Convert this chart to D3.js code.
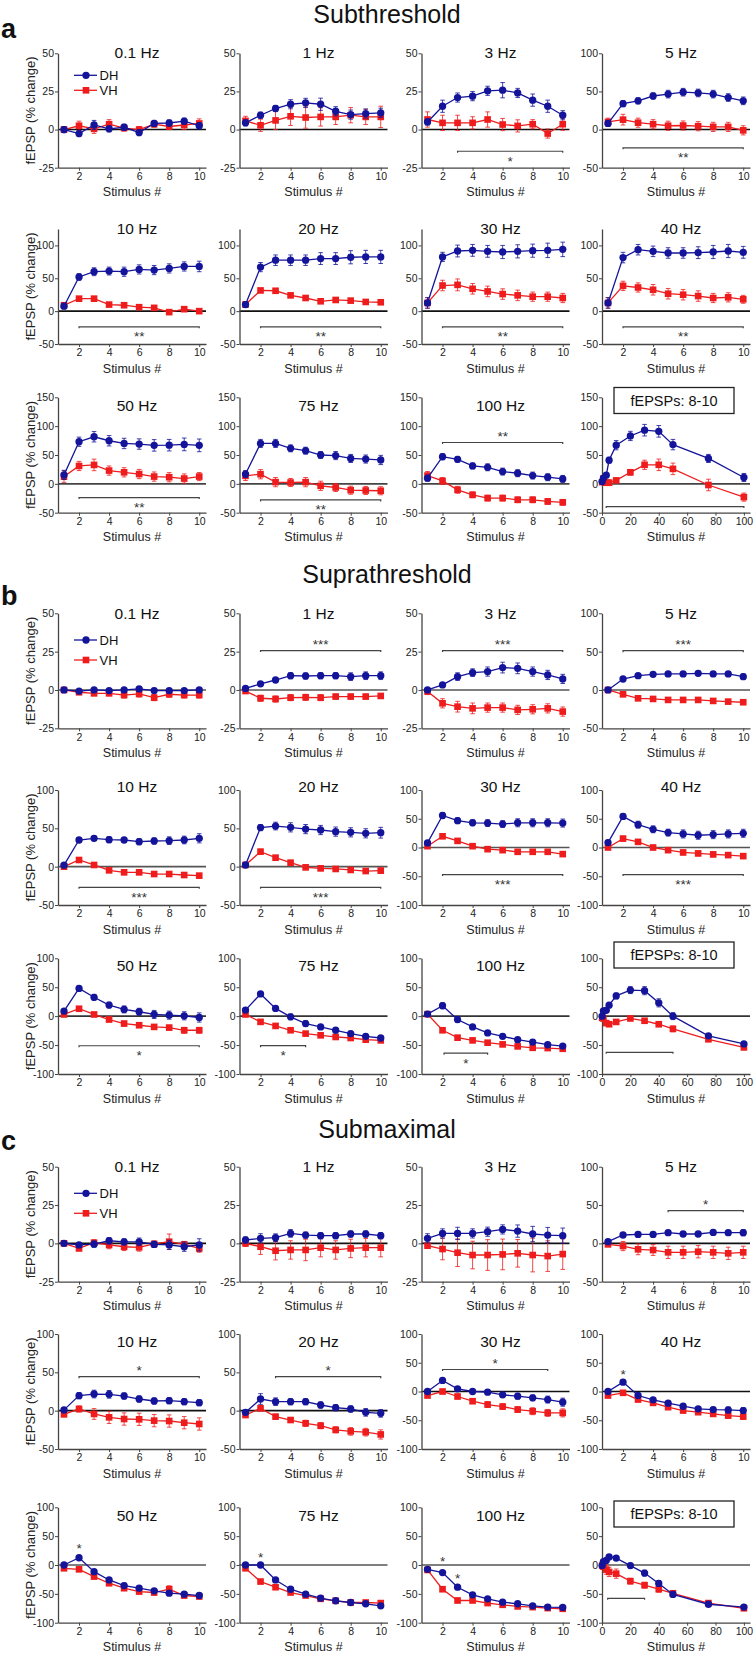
<!DOCTYPE html>
<html><head><meta charset="utf-8">
<script src="https://cdn.jsdelivr.net/npm/d3@7"></script>
<style>body{margin:0;background:#fff}svg text{font-family:"Liberation Sans",Arial,Helvetica,sans-serif}</style>
</head><body><svg id="chart" width="754" height="1655"></svg>
<script>
// ---------------- DATA ----------------
const sectionNames = ["Subthreshold", "Suprathreshold", "Submaximal"];
const sectionLetters = ["a", "b", "c"];
const seriesNames = ["DH", "VH"];
const panelTitles = ["0.1 Hz","1 Hz","3 Hz","5 Hz","10 Hz","20 Hz","30 Hz","40 Hz","50 Hz","75 Hz","100 Hz"];
const summaryTitle = "fEPSPs: 8-10";
const stimulusNumbers = [1,2,3,4,5,6,7,8,9,10];
const stimTickLabels = [2,4,6,8,10];
const summaryFreqs = [0.1,1,3,5,10,20,30,40,50,75,100];
const summaryTickLabels = [0,20,40,60,80,100];
const yTicks25 = [-25,0,25,50];
const yTicks50 = [-50,0,50,100];
const yTicks150 = [-50,0,50,100,150];
const yTicks100 = [-100,-50,0,50,100];
const xLabel = "Stimulus #";
const yLabel = "fEPSP (% change)";

// a: Subthreshold
const subDH = [
 [0,-2.6,3,0.5,1.5,-2,4,4.3,5.5,2.5],
 [4.4,9.4,13.8,16.6,17.5,16.6,12,9.8,10.5,11],
 [5,15.3,21,21.9,25.4,25.8,24,19.3,15.3,9.4],
 [8,34,37.7,44,46.5,49,48,46.5,42,37.7],
 [7.5,52,60,61,60,63.5,62.5,65,68,68],
 [10,67,77.5,77.5,77.5,80,80,82,82.5,82.5],
 [12.5,82.5,91.5,92.5,91,90,91,92,92.5,94],
 [12.5,81.5,93.5,91,88.5,88.5,89,90,91.5,89.5],
 [15.5,73,81.6,74.7,70,69,66.7,67,68.4,66.7],
 [17,70,70,61.5,57.5,50,49,44,43,41.4],
 [9.8,47,42.5,31,28.7,21.3,18.4,14.4,11.5,8.6]];
const subDHerr = [
 [2,2,3,2,2,2,2,2,2,2],[2,2,2,3,3,4,3,3,3,3],[2,4,3,3,3,5,3,4,4,3],[4,4,4,4,5,5,5,5,5,5],
 [4,5,6,6,7,7,7,7,7,8],[4,7,8,8,8,9,9,10,10,10],[8,7,9,9,9,10,10,10,11,11],[8,8,8,8,8,8,9,10,10,9],
 [8,8,9,9,9,9,10,10,11,11],[6,7,7,6,6,6,7,7,7,8],[5,5,5,5,6,6,6,6,6,6]];
const subVH = [
 [0,2.5,0.5,3.5,1,0,3.5,2,3,4],
 [5.7,2.8,6,8.7,7.9,8.3,8.3,9.4,8.3,8.3],
 [6.6,4.4,4.4,4.4,6.6,3.3,2.4,3.5,-2.6,3.5],
 [10,13,9,7,5,5.3,4.4,3.5,3.5,-1],
 [9,19,19,10,9,6,5,-1.5,3,0],
 [10,31.5,31,24,20,15,17,16,14,13.5],
 [12.5,39,40,34,30,26,24,22,22,20],
 [12.5,38.5,36,32.5,26.5,25,23,20,21,18],
 [12.6,31,32.8,23,20,17,12.6,11.5,9.2,12.6],
 [13.8,16.7,3,2.3,3,-3.4,-6.3,-11,-11.5,-12],
 [14.4,5,-10.3,-19,-24.7,-24.7,-27.6,-27.6,-30.5,-32]];
const subVHerr = [
 [2,3,3,3,2,2,2,2,3,3],[3,4,6,6,7,6,5,5,5,7],[5,5,5,4,5,4,4,3,3,4],[5,7,6,6,6,6,6,6,6,6],
 [3,3,3,3,3,3,3,3,3,3],[4,3,3,3,3,3,3,3,3,3],[8,8,9,8,8,8,8,7,7,7],[8,7,7,8,8,8,8,7,7,6],
 [10,8,10,8,8,8,8,8,8,7],[8,8,8,7,8,8,7,7,7,7],[7,6,6,5,5,5,5,5,5,5]];
const subSumDH = [4,10,15,41,67,83,93,91,68,44,11];
const subSumDHerr = [3,3,4,5,8,8,10,10,9,7,7];
const subSumVH = [3,9,2,2,6,20,33,33,26,-2,-23];
const subSumVHerr = [3,5,5,5,3,5,8,10,10,10,7];

// b: Suprathreshold
const supDH = [
 [0,-0.7,0,-0.4,0,0.7,-0.4,-0.4,-0.4,0],
 [1,4,6.5,9.3,9.1,9.3,9.3,8.7,9.3,9.3],
 [0,3.3,8.7,11.3,12,14.6,14.1,12,9.8,7.2],
 [0,14.3,18.7,20.4,20.9,20.9,21.7,20.9,20.9,17.4],
 [2,34.8,37,35.2,34.8,32.6,33.5,33.9,34.8,37],
 [2.2,51,53,51.3,49,47.8,45.7,44.8,43.5,44.3],
 [8,55.7,46.6,43,42.5,40.8,43,43,43,42.5],
 [8.6,54,39.7,31.6,25.9,23.6,21.3,22.4,23.6,24.7],
 [8.7,48,32.6,19.2,11.6,7.6,2.9,1.7,0.6,-2.3],
 [10.5,38.4,13.4,-1.2,-12.8,-18.6,-24.4,-30.2,-34.9,-37.8],
 [3.5,18,-5.8,-18.6,-29,-34.9,-40.7,-44.8,-49.4,-51.7]];
const supDHerr = [
 [1,1,1,1,1,1.5,1.5,1,1,1],[1,1.5,1.5,2,2,2,2,2.5,2.5,2.5],[1,1.5,2.5,2.5,3,3.5,3.5,3,3,3],[1,2,2,2.5,2.5,2.5,3,3,3,3.5],
 [2,3,3,4,3,4,4,5,5,6],[2,4,5,6,6,6,6,6,6,7],[4,5,5,5,6,6,7,7,7,7],[4,5,6,6,6,7,7,7,7,7],
 [3,4,5,5,6,6,7,7,7,8],[3,4,4,5,5,4,4,4,4,4],[3,5,5,4,4,4,4,4,3,3]];
const supVH = [
 [0,-1.5,-2.2,-2.2,-3.3,-2.6,-5,-2.8,-3.3,-3.3],
 [-0.7,-5.4,-5.9,-5,-4.8,-5,-4.3,-4.3,-4.3,-3.9],
 [-1,-8.7,-10.9,-12,-11.5,-11.5,-13,-12.6,-12,-14.1],
 [0,-5.7,-10.9,-11.7,-13,-13,-13,-14.3,-15.2,-16],
 [0,8.7,2.2,-4.8,-7.4,-7.4,-9.6,-9.6,-10.9,-11.7],
 [2.2,19.6,11.7,5.2,-0.9,-2.2,-3,-4.3,-5.7,-5.2],
 [2.3,19.5,11.5,2.3,-2.9,-4.6,-7.5,-7.5,-7.5,-11.5],
 [0,15.5,9.8,0,-4.6,-8.6,-10.3,-12,-13.2,-15],
 [2.9,12.8,2.9,-5.8,-12.8,-15.7,-18.6,-19.8,-24.4,-24.4],
 [2.9,-9.9,-16.9,-24.4,-30.2,-33.1,-36,-37.8,-40.7,-41.9],
 [3.5,-24.4,-37.2,-41.9,-45.9,-48.8,-52.3,-54.7,-55.2,-56.4]];
const supVHerr = [
 [1.5,1.5,1.5,1.5,2,2,2,2,2,2],[1.5,2,2,2,2,2,1.5,1.5,1.5,1.5],[2,3,3.5,3.5,3,3,3,3,3,3],[1,2,2,2,2,2,2,2,2,2.5],
 [2,2,2,2,2,2,2,2,2,2.5],[2,3,3,3,3,3,3,3,3,3.5],[3,4,4,3,3,3,3,3,3,4],[3,4,4,3,3,4,4,4,4,4],
 [2,3,3,4,4,4,4,4,5,5],[2,2,2,3,3,3,3,3,3,3],[3,3,3,3,3,3,3,4,3,4]];
const supSumDH = [0,9,10,19,35,45,44,23,0,-34,-48];
const supSumDHerr = [1,2,3,3,5,6,7,7,6,4,3];
const supSumVH = [-3,-4,-12,-14,-10,-4,-8,-14,-22,-40,-54];
const supSumVHerr = [2,2,3,2,2,3,3,4,5,3,4];

// c: Submaximal
const smxDH = [
 [0,-1,-0.5,1.7,1,1,-0.7,-1,-2.2,-1],
 [2.2,3.3,3.7,6.5,5.4,5,5,6.1,6.1,5],
 [3.3,6.5,6.5,6.5,7.6,9.1,8,6.1,5.4,5],
 [2.2,10.9,11.7,11.7,13.9,12.2,12.2,14.3,13.9,13.9],
 [1,19.6,21.7,21.3,19.1,15.2,12.6,13,11.7,10.4],
 [-2.2,15.2,11.7,11.7,11.7,7.4,3.9,2.2,-2.2,-3.5],
 [0,19.2,4.7,0,-1.2,-5.8,-8.1,-11,-14,-18.6],
 [0,16.3,-7,-14.5,-20.3,-25.6,-30.2,-31.4,-32,-33.1],
 [0,12.6,-11.5,-25.9,-35.6,-40.2,-44.8,-48.9,-50.6,-52.9],
 [0,0,-25.9,-42,-50.6,-57.5,-62,-65,-67.2,-70.7],
 [-7.5,-13.2,-38.5,-51.7,-58.6,-64.4,-67.2,-70.7,-73,-73.6]];
const smxDHerr = [
 [1.5,1.5,2,2,2,2.5,2,3,3,4],[2,3,2.5,2.5,2,2,2,2,2,2],[3,3,4,3,3,3,4,5,5,5],[2,3,3,3,3,3,3,3,3,4],
 [3,4,5,5,4,4,4,4,4,4],[3,7,5,4,4,4,4,4,5,5],[3,4,4,3,4,4,5,5,6,7],[3,4,3,3,4,4,4,4,5,5],
 [3,3,3,3,4,4,4,4,4,4],[2,2,3,3,3,3,3,3,3,3],[2,2,3,3,3,3,3,3,3,3]];
const smxVH = [
 [0,-3.3,0.4,-1,-2.2,-2.6,-0.4,1.1,-0.7,-3.3],
 [0,-2.2,-4.8,-4.3,-4.3,-2.8,-4.3,-3.3,-2.8,-2.8],
 [-1.5,-3.7,-6.1,-7.6,-7.6,-7.2,-6.5,-7.6,-8.3,-7],
 [-1.3,-3.5,-7.8,-8.7,-11.7,-11.7,-10.9,-11.7,-13,-11.7],
 [-4.8,2.2,-4.3,-8.7,-10.9,-11.3,-13,-13.5,-15.7,-17.4],
 [-5.7,3,-7.8,-12.2,-16.5,-19.6,-25,-27,-28,-31],
 [-7,0,-8.7,-16.9,-22.7,-26.2,-31.4,-34.3,-37.2,-37.2],
 [-7,-2.3,-14,-19.8,-27.3,-33.1,-36,-39,-41.9,-43.6],
 [-5.7,-7.5,-20.1,-31.6,-40.2,-46,-47.7,-42,-52.9,-54.6],
 [-5.7,-28.7,-38.5,-47.7,-52.9,-58.6,-62,-65,-65,-66],
 [-8.6,-42,-61.5,-61.5,-66,-69,-71.8,-73,-74.7,-75.9]];
const smxVHerr = [
 [1.5,1.5,2,2.5,2.5,2.5,2,5,2,2.5],[2,5,6,6,7,6,6,6,6,6],[1.5,7,9,9,10,10,9,11,10,10],[2,6,7,7,8,8,8,8,8,8],
 [3,4,7,8,8,8,8,8,8,8],[3,3,3,3,4,4,4,5,5,6],[3,3,4,4,5,5,5,6,6,7],[3,3,3,3,4,4,4,4,5,5],
 [3,3,3,3,4,4,4,6,4,4],[2,3,3,3,3,3,3,3,3,3],[2,3,4,3,3,3,3,3,3,3]];
const smxSumDH = [-1,6,8,14,12,-1,-14,-32,-51,-68,-73];
const smxSumDHerr = [2,2,3,3,3,4,5,5,4,3,3];
const smxSumVH = [-1,-3,-8,-12,-15,-28,-35,-42,-49,-66,-75];
const smxSumVHerr = [2,3,8,8,8,5,5,5,4,3,3];

// significance annotations (panel index, x-range, y value in data units, label)
const subSig = [
 {p:2,x1:3,x2:10,y:-14.2,t:"*",side:"below"},{p:3,x1:2,x2:10,y:-24,t:"**",side:"below"},
 {p:4,x1:2,x2:10,y:-23.8,t:"**",side:"below"},{p:5,x1:2,x2:10,y:-23.8,t:"**",side:"below"},
 {p:6,x1:2,x2:10,y:-23.8,t:"**",side:"below"},{p:7,x1:2,x2:10,y:-23.8,t:"**",side:"below"},
 {p:8,x1:2,x2:10,y:-23.8,t:"**",side:"below"},{p:9,x1:2,x2:10,y:-27.8,t:"**",side:"below"},
 {p:10,x1:2,x2:10,y:71.7,t:"**",side:"above"},{p:11,x1:3,x2:100,y:-39.4,t:"",side:"none"}];
const supSig = [
 {p:1,x1:2,x2:10,y:25.7,t:"***",side:"above"},{p:2,x1:2,x2:10,y:25.7,t:"***",side:"above"},
 {p:3,x1:2,x2:10,y:51.3,t:"***",side:"above"},{p:4,x1:2,x2:10,y:-26.9,t:"***",side:"below"},
 {p:5,x1:2,x2:10,y:-26.9,t:"***",side:"below"},{p:6,x1:2,x2:10,y:-47,t:"***",side:"below"},
 {p:7,x1:2,x2:10,y:-47,t:"***",side:"below"},{p:8,x1:2,x2:10,y:-51.2,t:"*",side:"below"},
 {p:9,x1:2,x2:5,y:-51,t:"*",side:"below"},{p:10,x1:2.1,x2:5,y:-64,t:"*",side:"below"},
 {p:11,x1:3,x2:50,y:-62.6,t:"",side:"none"}];
const smxSig = [
 {p:3,x1:5,x2:10,y:42.6,t:"*",side:"above"},{p:4,x1:2,x2:10,y:44.3,t:"*",side:"above"},
 {p:5,x1:3,x2:10,y:44.3,t:"*",side:"above"},{p:6,x1:2,x2:9,y:38.3,t:"*",side:"above"},
 {p:11,x1:4,x2:30,y:-57.8,t:"",side:"none"}];
const smxStars = [{p:7,x:2,y:34.8},{p:8,x:2,y:33},{p:9,x:2,y:19},{p:10,x:2,y:11.6},{p:10,x:3,y:-18.6}];

// ---------------- LAYOUT ----------------
const DHc = "#14149a", VHc = "#ee1c1c";
const colX = [58, 239.5, 421.5, 602];
const plotW = 148;
const rowA = {doms:[[-25,50],[-25,50],[-25,50],[-50,100]], ticks:[yTicks25,yTicks25,yTicks25,yTicks50]};
const rowB2 = {doms:[[-50,100],[-50,100],[-100,100],[-100,100]], ticks:[yTicks50,yTicks50,yTicks100,yTicks100]};
const rowFull = {doms:[[-100,100],[-100,100],[-100,100],[-100,100]], ticks:[yTicks100,yTicks100,yTicks100,yTicks100]};
const rowLayout = [
 {top:53.3, bot:167.7, tY:57.5, zero:"#111", ...rowA},
 {top:229, bot:344, tY:233.5, zero:"#111", doms:[[-50,125],[-50,125],[-50,125],[-50,125]], ticks:[yTicks50,yTicks50,yTicks50,yTicks50]},
 {top:397.3, bot:512.7, tY:410.5, zero:"#444", boxC:400.5, doms:[[-50,150],[-50,150],[-50,150],[-50,150]], ticks:[yTicks150,yTicks150,yTicks150,yTicks150]},
 {top:613.3, bot:728.3, tY:618.5, zero:"#555", ...rowA},
 {top:790, bot:905, tY:792, zero:"#555", ...rowB2},
 {top:958.3, bot:1074, tY:971, zero:"#333", boxC:955, ...rowFull},
 {top:1166.7, bot:1281.7, tY:1172, zero:"#111", ...rowA},
 {top:1334, bot:1449, tY:1347, zero:"#111", ...rowB2},
 {top:1507.3, bot:1622.7, tY:1520.5, zero:"#555", boxC:1514, ...rowFull}
];
const sectionLayout = [
 {titleY:23, letterY:38.3, leg:[22,37]},
 {titleY:583.3, letterY:605, leg:[26.7,46.7]},
 {titleY:1138.3, letterY:1150, leg:[26.6,46.6]}
];

const sections = [
 {dh:subDH, dhE:subDHerr, vh:subVH, vhE:subVHerr, sDH:subSumDH, sDHE:subSumDHerr, sVH:subSumVH, sVHE:subSumVHerr, sig:subSig, stars:[]},
 {dh:supDH, dhE:supDHerr, vh:supVH, vhE:supVHerr, sDH:supSumDH, sDHE:supSumDHerr, sVH:supSumVH, sVHE:supSumVHerr, sig:supSig, stars:[]},
 {dh:smxDH, dhE:smxDHerr, vh:smxVH, vhE:smxVHerr, sDH:smxSumDH, sDHE:smxSumDHerr, sVH:smxSumVH, sVHE:smxSumVHerr, sig:smxSig, stars:smxStars}
];

// ---------------- DRAW ----------------
const svg = d3.select("#chart");
const sym = (shape) => d3.symbol().type(shape === "circle" ? d3.symbolCircle : d3.symbolSquare).size(shape === "circle" ? 42 : 44)();

function drawSeries(g, x, y, xs, vals, errs, color, shape) {
  const pts = xs.map((xv, i) => ({x: xv, v: vals[i], e: errs[i]}));
  g.append("g").selectAll("path").data(pts).join("path")
    .attr("d", d => {
      const cx = x(d.x), lo = y(d.v - d.e), hi = y(d.v + d.e);
      return `M${cx},${lo}V${hi}M${cx-2.3},${lo}h4.6M${cx-2.3},${hi}h4.6`;
    })
    .attr("stroke", color).attr("stroke-width", 1).attr("fill", "none").attr("opacity", 0.8);
  g.append("path").datum(pts)
    .attr("d", d3.line().x(d => x(d.x)).y(d => y(d.v)))
    .attr("fill", "none").attr("stroke", color).attr("stroke-width", 1.3);
  g.append("g").selectAll("path").data(pts).join("path")
    .attr("transform", d => `translate(${x(d.x)},${y(d.v)})`)
    .attr("d", sym(shape)).attr("fill", color);
}

sections.forEach((sec, si) => {
  const sl = sectionLayout[si];
  svg.append("text").attr("x", 387).attr("y", sl.titleY).attr("text-anchor", "middle")
    .attr("font-size", 25).attr("fill", "#111").text(sectionNames[si]);
  svg.append("text").attr("x", 1).attr("y", sl.letterY).attr("font-size", 27)
    .attr("font-weight", "bold").attr("fill", "#111").text(sectionLetters[si]);

  for (let r = 0; r < 3; r++) {
    const row = rowLayout[si * 3 + r];
    for (let c = 0; c < 4; c++) {
      const p = r * 4 + c;
      const isSum = p === 11;
      const x0 = colX[c];
      const x = d3.scaleLinear().domain(isSum ? [0, 104.3] : [0.6, 10.45]).range([x0, x0 + plotW]);
      const y = d3.scaleLinear().domain(row.doms[c]).range([row.bot, row.top]);
      const g = svg.append("g");

      // zero line
      g.append("line").attr("x1", x0).attr("x2", x0 + plotW).attr("y1", y(0)).attr("y2", y(0))
        .attr("stroke", row.zero).attr("stroke-width", 1.6);

      // axes
      const ya = g.append("g").attr("transform", `translate(${x0},0)`)
        .call(d3.axisLeft(y).tickValues(row.ticks[c]).tickSize(3).tickSizeOuter(0).tickPadding(1).tickFormat(d => String(d)));
      const xa = g.append("g").attr("transform", `translate(0,${row.bot})`)
        .call(d3.axisBottom(x).tickValues(isSum ? summaryTickLabels : stimTickLabels).tickSize(3).tickSizeOuter(0).tickPadding(2).tickFormat(d => String(d)));
      [ya, xa].forEach(a => {
        a.attr("font-family", null).attr("font-size", null);
        a.select(".domain").attr("stroke", "#444").attr("stroke-width", 1.3);
        a.selectAll(".tick line").attr("stroke", "#444");
        a.selectAll(".tick text").attr("font-size", 10.5).attr("fill", "#222");
      });

      // x label
      g.append("text").attr("x", x0 + plotW / 2).attr("y", row.bot + 28.5).attr("text-anchor", "middle")
        .attr("font-size", 12.5).attr("fill", "#222").text(xLabel);
      // y label
      if (c === 0) {
        const cy = (row.top + row.bot) / 2;
        g.append("text").attr("transform", `translate(30,${cy}) rotate(-90)`).attr("text-anchor", "middle")
          .attr("dominant-baseline", "central").attr("font-size", 13).attr("fill", "#222").text(yLabel);
      }

      // title / box
      if (!isSum) {
        g.append("text").attr("x", x0 + plotW / 2 + 5).attr("y", row.tY).attr("text-anchor", "middle")
          .attr("font-size", 15.5).attr("fill", "#111").text(panelTitles[p]);
      } else {
        g.append("rect").attr("x", 614).attr("y", row.boxC - 13).attr("width", 120).attr("height", 26)
          .attr("fill", "#fff").attr("stroke", "#222").attr("stroke-width", 1.3);
        g.append("text").attr("x", 674).attr("y", row.boxC + 5).attr("text-anchor", "middle")
          .attr("font-size", 14.5).attr("fill", "#111").text(summaryTitle);
      }

      // significance bars
      sec.sig.filter(s => s.p === p).forEach(s => {
        const by = y(s.y);
        g.append("path").attr("d", `M${x(s.x1)},${by + 1.5}V${by}H${x(s.x2)}V${by + 1.5}`)
          .attr("fill", "none").attr("stroke", "#444").attr("stroke-width", 1.2);
        if (s.t) {
          const cyy = s.side === "above" ? by - 9 : by + 7;
          g.append("text").attr("x", (x(s.x1) + x(s.x2)) / 2).attr("y", cyy + 7.5).attr("text-anchor", "middle")
            .attr("font-size", 13.5).attr("fill", "#333").text(s.t);
        }
      });
      sec.stars.filter(s => s.p === p).forEach(s => {
        g.append("text").attr("x", x(s.x)).attr("y", y(s.y) + 7.5).attr("text-anchor", "middle")
          .attr("font-size", 13.5).attr("fill", "#333").text("*");
      });

      // series
      if (isSum) {
        drawSeries(g, x, y, summaryFreqs, sec.sVH, sec.sVHE, VHc, "square");
        drawSeries(g, x, y, summaryFreqs, sec.sDH, sec.sDHE, DHc, "circle");
      } else {
        drawSeries(g, x, y, stimulusNumbers, sec.vh[p], sec.vhE[p], VHc, "square");
        drawSeries(g, x, y, stimulusNumbers, sec.dh[p], sec.dhE[p], DHc, "circle");
      }

      // legend
      if (p === 0) {
        [[DHc, "circle"], [VHc, "square"]].forEach(([col, shp], k) => {
          const ly = row.top + sl.leg[k];
          g.append("line").attr("x1", 74).attr("x2", 97).attr("y1", ly).attr("y2", ly)
            .attr("stroke", col).attr("stroke-width", 1.3);
          g.append("path").attr("transform", `translate(86,${ly})`).attr("d", sym(shp)).attr("fill", col);
          g.append("text").attr("x", 99.5).attr("y", ly + 4.5).attr("font-size", 13).attr("fill", "#111").text(seriesNames[k]);
        });
      }
    }
  }
});
</script></body></html>
